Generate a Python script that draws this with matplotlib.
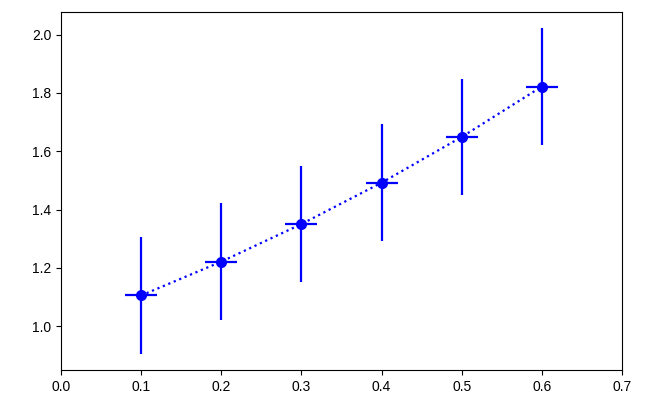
import matplotlib
matplotlib.use("Agg")
import matplotlib.pyplot as plt

plt.rcParams['font.family'] = ['Liberation Sans', 'DejaVu Sans']

x = [0.1, 0.2, 0.3, 0.4, 0.5, 0.6]
y = [1.105, 1.221, 1.350, 1.492, 1.649, 1.822]
xerr = [0.02, 0.02, 0.02, 0.02, 0.02, 0.02]
yerr = [0.2, 0.2, 0.2, 0.2, 0.2, 0.2]

fig = plt.figure(figsize=(6.65, 4.19), dpi=100)
ax = fig.add_axes([61 / 665, 49 / 419, 561 / 665, 358 / 419])
ax.errorbar(x, y, xerr=xerr, yerr=yerr, fmt='o:', color='blue',
            markersize=7, elinewidth=1.6, linewidth=1.6)
ax.set_xlim(0, 0.7)
ax.tick_params(labelsize=10)

fig.savefig("out.png", dpi=100)
